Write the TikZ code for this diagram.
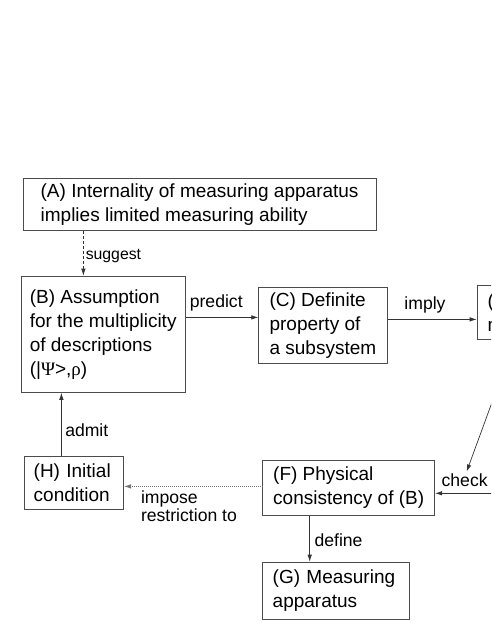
\documentclass[tikz,border=0pt]{standalone}
\usepackage{fontspec}
\setmainfont{Liberation Sans}
\newfontfamily\greekfont{Liberation Serif}
\usetikzlibrary{arrows.meta}

\begin{document}
\begin{tikzpicture}[
  x=1pt, y=-1pt,
  font=\fontsize{19}{24}\selectfont,
  box/.style={draw=black!70, line width=0.8pt, anchor=north west, align=left, inner ysep=0pt},
  lbl/.style={font=\fontsize{17.6}{17.5}\selectfont, inner sep=2.5pt, text depth=3.7pt},
  arr/.style={-{Latex[length=7pt, width=4.5pt]}, line width=0.7pt, draw=black!80}
]
\useasboundingbox (0,0) rectangle (491,635);
\clip (0,0) rectangle (491,635);

% boxes
\node[box, minimum width=353pt, minimum height=52pt] (a) at (22.7,178.3)
  {(A) Internality of measuring apparatus\\implies limited measuring ability};
\node[box, minimum width=164.5pt, minimum height=116.3pt] (b) at (20.5,275.7)
  {(B) Assumption\\for the multiplicity\\of descriptions\\(|{\greekfont Ψ}>,{\greekfont ρ})};
\node[box, minimum width=128.4pt, minimum height=76.6pt] (c) at (258.3,286.7)
  {(C) Definite\\property of\\a subsystem};
\node[box, text width=130pt, inner xsep=10.5pt, minimum height=54pt] (d) at (476.7,285)
  {(D)\\m};
\node[box, text width=81pt, inner xsep=9pt, minimum height=53.3pt] (h) at (24.3,455.7)
  {(H) Initial\\condition};
\node[box, minimum width=172pt, minimum height=55pt] (f) at (262.3,460)
  {(F) Physical\\consistency of (B)};
\node[box, text width=126.7pt, inner xsep=10pt, minimum height=57.3pt] (g) at (262.3,561.7)
  {(G) Measuring\\apparatus};

% free ends coming from outside the frame
\coordinate (ein) at (500,493.3);
\coordinate (dtop) at (496,391.4);
\coordinate (dtip) at (466.7,471.5);

% connectors
\draw[arr, dash pattern=on 3pt off 2pt] ([xshift=-116.2pt]a.south) coordinate (ab) -- (ab |- b.north)
  node[lbl, pos=0.57, right, inner sep=2pt, font=\fontsize{15.8}{15.8}\selectfont] {suggest};
\draw[arr] ([yshift=16.85pt]b.east) coordinate (bc) -- (bc -| c.west)
  node[lbl, pos=0.42, above=3pt] {predict};
\draw[arr] ([yshift=6pt]c.east) coordinate (cd) -- (cd -| d.west)
  node[lbl, pos=0.42, above=3.8pt] {imply};
\draw[arr] ([xshift=-12.8pt]h.north) coordinate (hb) -- (hb |- b.south)
  node[lbl, pos=0.385, right=1pt] {admit};
\draw[arr, dash pattern=on 0.8pt off 1.2pt, draw=black!55] ([yshift=1.5pt]f.west) coordinate (fh) -- (fh -| h.east)
  node[lbl, pos=0.898, anchor=north west, align=left, yshift=-1.5pt] {impose\\restriction to};
\draw[arr] (ein) -- (ein -| f.east)
  node[lbl, pos=0.545, above=0.5pt] {check};
\draw[arr] (dtop) -- (dtip);
\draw[arr] ([xshift=-39pt]f.south) coordinate (fg) -- (fg |- g.north)
  node[lbl, pos=0.56, right=2pt] {define};
\end{tikzpicture}
\end{document}
